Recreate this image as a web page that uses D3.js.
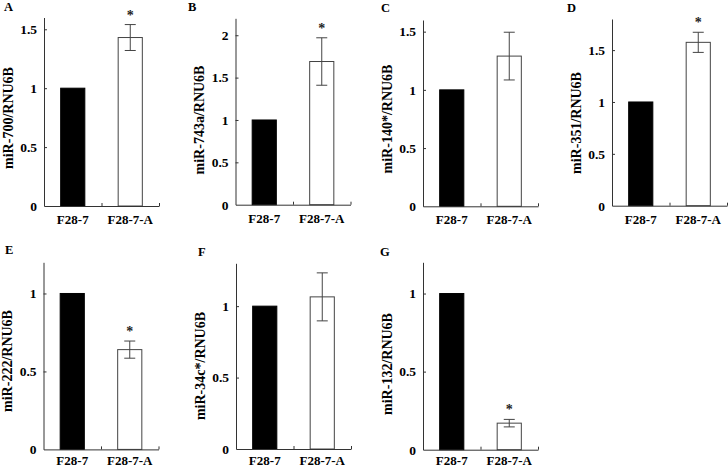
<!DOCTYPE html>
<html>
<head>
<meta charset="utf-8">
<script src="https://cdn.jsdelivr.net/npm/d3@7"></script>
<style>
  html, body { margin: 0; padding: 0; background: #fff; }
  svg { display: block; }
  text { font-family: "Liberation Serif", "Times New Roman", serif; font-weight: bold; }
</style>
</head>
<body>
<svg id="chart" width="728" height="469"></svg>
<script>
// ---- data ----
const categories = ["F28-7", "F28-7-A"];
const panelLetters = ["A", "B", "C", "D", "E", "F", "G"];
const yLabels = ["miR-700/RNU6B", "miR-743a/RNU6B", "miR-140*/RNU6B", "miR-351/RNU6B",
                 "miR-222/RNU6B", "miR-34c*/RNU6B", "miR-132/RNU6B"];
const meanValues = [[1, 1.43], [1, 1.69], [1, 1.29], [1, 1.575], [1, 0.64], [1, 1.065], [1, 0.17]];
const errValues  = [[0, 0.11], [0, 0.28], [0, 0.205], [0, 0.097], [0, 0.055], [0, 0.168], [0, 0.024]];
const significant = [[false, true], [false, true], [false, false], [false, true],
                     [false, true], [false, false], [false, true]];
const yMaxValues = [1.6, 2.2, 1.6, 1.8, 1.2, 1.3, 1.2];
const yTickValues = [[0, 0.5, 1, 1.5], [0, 0.5, 1, 1.5, 2], [0, 0.5, 1, 1.5], [0, 0.5, 1, 1.5],
                     [0, 0.5, 1], [0, 0.5, 1], [0, 0.5, 1]];

// ---- layout (positions only) ----
const layout = [
  { x: 44,    y0: 206,   y1: 17.5,  ly: 118, px: 4,   py: 11,  cy: 18 },
  { x: 235.5, y0: 204.7, y1: 18.3,  ly: 120, px: 188, py: 11,  cy: 18 },
  { x: 423,   y0: 206.3, y1: 20,    ly: 119, px: 381, py: 12,  cy: 18 },
  { x: 612,   y0: 205.7, y1: 19,    ly: 123, px: 567, py: 12,  cy: 18 },
  { x: 43.5,  y0: 449.4, y1: 262.3, ly: 361, px: 5,   py: 254, cy: 15.5 },
  { x: 236,   y0: 449,   y1: 263.3, ly: 366, px: 198, py: 256, cy: 15.5 },
  { x: 423,   y0: 449.7, y1: 262.3, ly: 364, px: 380, py: 256, cy: 15.5 }
];
const axisWidth = 115;
const labelOffset = 36;
const ink = "#333";
const fontStack = '"Liberation Serif", "Times New Roman", serif';

const svg = d3.select("#chart");

layout.forEach((L, i) => {
  const g = svg.append("g");
  const y = d3.scaleLinear().domain([0, yMaxValues[i]]).range([L.y0, L.y1]);
  const xb = d3.scaleBand().domain(categories).range([L.x, L.x + axisWidth])
    .paddingInner(0.58).paddingOuter(0.29);
  const xl = d3.scaleLinear().domain([0, categories.length]).range([L.x, L.x + axisWidth]);

  // bars
  g.selectAll("rect.bar").data(categories).join("rect")
    .attr("class", "bar")
    .attr("x", d => xb(d))
    .attr("width", xb.bandwidth())
    .attr("y", (d, j) => y(meanValues[i][j]))
    .attr("height", (d, j) => y(0) - y(meanValues[i][j]))
    .attr("fill", (d, j) => j === 0 ? "#000" : "#fff")
    .attr("stroke", (d, j) => j === 0 ? "#000" : "#444")
    .attr("stroke-width", 1);

  // error bars
  categories.forEach((c, j) => {
    const e = errValues[i][j];
    if (!e) return;
    const cx = xb(c) + xb.bandwidth() / 2;
    const top = y(meanValues[i][j] + e), bot = y(meanValues[i][j] - e);
    g.append("line").attr("x1", cx).attr("x2", cx).attr("y1", top).attr("y2", bot)
      .attr("stroke", "#444").attr("stroke-width", 1);
    [top, bot].forEach(yy => g.append("line").attr("x1", cx - 5.5).attr("x2", cx + 5.5)
      .attr("y1", yy).attr("y2", yy).attr("stroke", "#444").attr("stroke-width", 1));
    if (significant[i][j]) {
      g.append("text").attr("x", cx).attr("y", top - 5).attr("text-anchor", "middle")
        .attr("font-size", 14).attr("fill", "#222").text("*");
    }
  });

  // y axis
  const ya = g.append("g").attr("transform", `translate(${L.x},0)`)
    .style("color", ink)
    .call(d3.axisLeft(y).tickValues(yTickValues[i]).tickSizeInner(-3).tickSizeOuter(0)
      .tickPadding(7).tickFormat(d3.format("")));
  ya.attr("font-family", fontStack).attr("font-size", 13.5).attr("font-weight", "bold");
  ya.selectAll("text").attr("fill", "#000")
    .style("font-family", fontStack).style("font-weight", "bold").style("font-size", "13.5px");
  ya.selectAll(".tick").filter(d => d === 0).select("line").remove();

  // x axis
  g.append("g").attr("transform", `translate(0,${L.y0})`)
    .style("color", ink)
    .call(d3.axisBottom(xl).tickValues([1, 2]).tickSizeInner(-3).tickSizeOuter(0).tickFormat(""));

  // category labels
  g.selectAll("text.cat").data(categories).join("text")
    .attr("class", "cat")
    .attr("x", d => xb(d) + xb.bandwidth() / 2)
    .attr("y", L.y0 + L.cy)
    .attr("text-anchor", "middle")
    .attr("font-size", 13)
    .text(d => d);

  // y label
  g.append("text")
    .attr("transform", `translate(${L.x - labelOffset},${L.ly}) rotate(-90)`)
    .attr("text-anchor", "middle")
    .attr("dominant-baseline", "central")
    .attr("font-size", 14)
    .text(yLabels[i]);

  // panel letter
  g.append("text").attr("x", L.px).attr("y", L.py).attr("font-size", 12.5).text(panelLetters[i]);
});
</script>
</body>
</html>
